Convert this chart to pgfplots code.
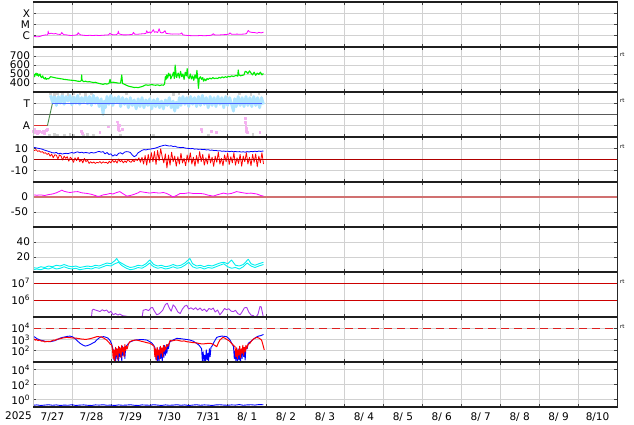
\documentclass[border=0pt]{standalone}
\usepackage{pgfplots}
\pgfplotsset{compat=1.18}
\usepackage{fontspec}
\setmainfont{DejaVu Sans}
\newcommand{\lab}{\fontsize{10.5}{12}\selectfont}
\definecolor{xmag}{HTML}{FF00FF}
\definecolor{swgreen}{HTML}{00EE00}
\definecolor{ltblue}{HTML}{AEE4FF}
\definecolor{tblue}{HTML}{4A66FF}
\definecolor{agreen}{HTML}{4A8A4A}
\definecolor{ared}{HTML}{E03030}
\definecolor{pinkp}{HTML}{F4B0F0}
\definecolor{zred}{HTML}{B00000}
\definecolor{salmon}{HTML}{D07070}
\definecolor{purp}{HTML}{A838E8}
\definecolor{thred}{HTML}{CC0000}
\definecolor{dred}{HTML}{DD2020}
\definecolor{cy}{HTML}{00F0F0}
\pgfplotsset{
  panel/.style={
    scale only axis, width=584pt, height=45pt, anchor=south west,
    xmin=0, xmax=15, xtick={0,1,...,15}, xticklabels={},
    grid=major, major grid style={draw=black!18, line width=0.6pt},
    axis line style={draw=none},
    tick style={draw=black!75, line width=0.6pt}, major tick length=3pt,
    tick align=inside,
    yticklabel style={font=\lab, xshift=0.5pt},
    yminorticks=false,
    every axis plot/.append style={line width=0.8pt, line join=round},
  },
}
\begin{document}
\begin{tikzpicture}
\path[use as bounding box] (0pt,0pt) rectangle (634pt,424pt);

% ---------- Panel 1: X-ray ----------
\begin{axis}[panel, at={(33pt,377pt)}, ymode=log, ymin=1e-7, ymax=1e-3,
  ytick={1e-6,1e-5,1e-4}, yticklabels={C,M,X}]
\addplot[xmag, line width=0.8pt] coordinates {
(0.00,9.0e-7)(0.04,8.6e-7)(0.08,8.2e-7)(0.12,8.0e-7)(0.16,8.5e-7)(0.20,9.2e-7)(0.24,1.05e-6)(0.28,1.1e-6)
(0.32,1.2e-6)(0.36,1.15e-6)(0.38,1.3e-6)(0.39,2.6e-6)(0.40,1.6e-6)(0.43,1.5e-6)(0.46,1.7e-6)(0.50,1.55e-6)
(0.54,1.45e-6)(0.58,1.6e-6)(0.62,1.4e-6)(0.66,1.35e-6)(0.70,1.3e-6)(0.73,1.6e-6)(0.74,2.0e-6)(0.76,1.5e-6)
(0.80,1.25e-6)(0.86,1.2e-6)(0.92,1.1e-6)(0.98,1.05e-6)(1.04,1.1e-6)(1.10,1.15e-6)(1.14,1.3e-6)(1.16,1.9e-6)
(1.18,1.5e-6)(1.22,1.2e-6)(1.30,1.1e-6)(1.38,1.05e-6)(1.46,1.1e-6)(1.54,1.05e-6)(1.62,1.1e-6)(1.70,1.05e-6)
(1.78,1.1e-6)(1.86,1.15e-6)(1.94,1.2e-6)(1.98,1.7e-6)(2.01,1.3e-6)(2.08,1.2e-6)(2.14,1.25e-6)(2.18,1.6e-6)
(2.19,2.6e-6)(2.21,1.5e-6)(2.26,1.3e-6)(2.32,1.2e-6)(2.40,1.2e-6)(2.48,1.25e-6)(2.55,1.3e-6)(2.58,2.0e-6)
(2.61,1.4e-6)(2.68,1.35e-6)(2.76,1.45e-6)(2.84,1.5e-6)(2.90,1.6e-6)(2.92,2.8e-6)(2.95,1.8e-6)(2.99,2.2e-6)
(3.02,1.7e-6)(3.06,2.4e-6)(3.09,3.5e-6)(3.12,2.0e-6)(3.16,2.3e-6)(3.20,1.9e-6)(3.24,4.2e-6)(3.27,2.0e-6)
(3.31,1.8e-6)(3.35,2.0e-6)(3.39,2.8e-6)(3.42,1.6e-6)(3.50,1.5e-6)(3.58,1.4e-6)(3.66,1.45e-6)(3.74,1.4e-6)
(3.80,1.5e-6)(3.82,1.8e-6)(3.85,1.2e-6)(3.92,1.1e-6)(4.00,1.05e-6)(4.10,1.0e-6)(4.20,1.0e-6)(4.30,1.05e-6)
(4.40,1.0e-6)(4.50,1.05e-6)(4.58,1.1e-6)(4.63,1.5e-6)(4.66,1.2e-6)(4.74,1.15e-6)(4.82,1.2e-6)(4.90,1.25e-6)
(4.98,1.3e-6)(5.04,1.45e-6)(5.06,1.8e-6)(5.09,1.4e-6)(5.16,1.35e-6)(5.24,1.4e-6)(5.32,1.35e-6)(5.40,1.4e-6)
(5.48,1.5e-6)(5.53,3.0e-6)(5.56,2.2e-6)(5.62,2.0e-6)(5.70,1.9e-6)(5.76,1.7e-6)(5.80,2.0e-6)(5.86,1.8e-6)(5.92,2.1e-6)};
\end{axis}

% ---------- Panel 2: solar wind speed ----------
\begin{axis}[panel, at={(33pt,332pt)}, ymin=300, ymax=800,
  ytick={400,500,600,700}, yticklabels={400,500,600,700}]
\addplot[swgreen, line width=1.1pt] coordinates {
(0.00,480)(0.02,500)(0.04,470)(0.06,495)(0.08,510)(0.10,485)(0.12,505)(0.14,475)(0.16,490)(0.18,500)
(0.20,470)(0.22,460)(0.25,480)(0.27,455)(0.30,445)(0.32,460)(0.34,440)(0.37,450)(0.40,445)(0.45,470)
(0.50,465)(0.55,460)(0.60,455)(0.65,452)(0.70,448)(0.75,445)(0.80,440)(0.85,438)(0.90,435)(0.95,432)
(1.00,430)(1.05,428)(1.10,425)(1.15,420)(1.20,418)(1.24,425)(1.25,490)(1.26,430)(1.30,415)(1.35,420)
(1.40,412)(1.45,415)(1.50,410)(1.55,405)(1.60,408)(1.65,400)(1.70,395)(1.75,390)(1.80,385)(1.85,392)
(1.90,388)(1.95,395)(1.98,440)(2.00,400)(2.05,410)(2.10,405)(2.15,402)(2.20,398)(2.25,400)(2.28,490)
(2.30,395)(2.35,385)(2.40,375)(2.45,365)(2.50,360)(2.55,355)(2.60,350)(2.65,352)(2.70,348)(2.75,355)
(2.80,360)(2.85,370)(2.90,380)(2.95,375)(3.00,378)(3.05,382)(3.10,378)(3.15,375)(3.20,380)(3.25,372)
(3.30,378)(3.35,375)(3.38,390)(3.40,470)(3.42,440)(3.43,490)(3.46,455)(3.48,510)(3.49,480)(3.52,500)(3.54,445)(3.55,460)(3.58,485)
(3.61,520)(3.63,450)(3.64,470)(3.65,600)(3.67,520)(3.69,460)(3.70,480)(3.73,510)(3.76,455)(3.79,530)(3.82,470)(3.85,500)
(3.88,440)(3.91,520)(3.94,480)(3.96,560)(3.98,470)(4.01,450)(4.04,500)(4.07,445)(4.10,480)(4.13,430)
(4.16,490)(4.19,450)(4.21,540)(4.23,460)(4.25,340)(4.27,450)(4.30,470)(4.33,440)(4.36,460)(4.38,420)
(4.41,445)(4.44,425)(4.47,450)(4.50,440)(4.54,455)(4.58,445)(4.62,460)(4.66,448)(4.70,455)(4.74,450)
(4.78,462)(4.82,455)(4.86,468)(4.90,458)(4.94,470)(4.98,462)(5.02,475)(5.06,468)(5.10,480)(5.14,472)
(5.18,478)(5.22,485)(5.26,475)(5.27,545)(5.29,490)(5.33,480)(5.37,485)(5.42,490)(5.45,530)(5.48,525)
(5.52,505)(5.56,535)(5.60,510)(5.64,490)(5.68,520)(5.72,485)(5.76,510)(5.80,495)(5.84,520)(5.88,490)(5.92,505)};
\end{axis}

% ---------- Panel 3: T/A sector ----------
\begin{axis}[panel, at={(33pt,287pt)}, ymin=-2, ymax=2,
  ytick={-1,0,1}, yticklabels={A,,T}]
\addplot[only marks, mark=square*, mark size=0.8pt, draw=black!18, fill=black!18] coordinates {
(0.45,1.85)(0.55,1.8)(0.62,1.9)(0.75,1.85)(0.9,1.8)(1.05,1.85)(1.2,1.9)(1.35,1.8)(1.5,1.85)(2.4,1.85)
(3.6,1.8)(3.75,1.85)(5.3,1.85)(5.6,1.8)(5.8,1.85)
(0.42,-1.8)(0.55,-1.75)(0.62,-1.85)(0.8,-1.8)(0.95,-1.75)(1.05,-1.85)(1.3,-1.8)(1.4,-1.75)(1.55,-1.8)
(2.25,-1.85)(3.1,-1.8)(4.5,-1.8)(5.65,-1.75)};
\addplot[ltblue, line width=2.8pt] coordinates {
(0.45,1.7)(0.50,1.1)(0.55,1.65)(0.60,0.8)(0.65,1.6)(0.70,1.0)(0.75,1.75)(0.80,0.9)(0.85,1.6)(0.90,1.2)
(0.95,1.7)(1.00,0.85)(1.05,1.55)(1.10,1.0)(1.15,1.7)(1.20,0.9)(1.25,1.5)(1.30,1.1)(1.35,1.65)(1.40,0.95)
(1.45,1.6)(1.50,0.8)(1.55,1.7)(1.60,1.0)(1.65,1.5)(1.70,0.7)(1.75,1.4)(1.80,0.0)(1.83,1.2)(1.86,0.6)
(1.90,1.6)(1.95,0.9)(2.00,1.7)(2.05,0.8)(2.10,1.5)(2.15,1.1)(2.20,1.6)(2.25,0.7)(2.30,1.5)(2.35,0.9)
(2.40,1.4)(2.45,0.6)(2.50,1.5)(2.55,0.8)(2.60,1.3)(2.65,0.5)(2.70,1.4)(2.75,0.7)(2.80,1.5)(2.85,0.6)
(2.90,1.3)(2.95,0.8)(3.00,1.4)(3.05,0.5)(3.10,1.3)(3.15,0.7)(3.20,1.4)(3.25,0.6)(3.30,1.2)(3.35,0.5)
(3.40,1.3)(3.45,0.8)(3.50,1.5)(3.55,0.6)(3.60,1.2)(3.64,0.3)(3.68,1.1)(3.72,0.6)(3.76,1.5)(3.80,0.8)
(3.85,1.6)(3.90,0.9)(3.95,1.5)(4.00,0.7)(4.05,1.6)(4.10,0.9)(4.15,1.5)(4.20,0.7)(4.25,1.6)(4.30,0.8)
(4.35,1.7)(4.40,0.9)(4.45,1.5)(4.50,0.6)(4.55,1.6)(4.60,0.8)(4.65,1.5)(4.70,0.7)(4.75,1.6)(4.80,0.9)
(4.85,1.5)(4.90,0.6)(4.95,1.6)(5.00,0.8)(5.05,1.5)(5.10,0.9)(5.15,0.3)(5.18,1.4)(5.22,0.7)(5.27,1.6)
(5.32,0.8)(5.37,1.5)(5.42,0.7)(5.47,1.6)(5.52,0.8)(5.57,1.5)(5.62,0.7)(5.67,1.6)(5.72,0.8)(5.77,1.5)
(5.82,0.6)(5.87,1.5)(5.92,0.9)};
\addplot[only marks, mark=square*, mark size=0.9pt, draw=pinkp, fill=pinkp] coordinates {
(0.02,-1.5)(0.05,-1.6)(0.08,-1.45)(0.11,-1.55)(0.14,-1.6)(0.17,-1.5)(0.20,-1.55)(0.23,-1.6)(0.26,-1.5)
(0.29,-1.55)(0.32,-1.45)(0.35,-1.4)(0.38,-1.3)(0.04,-1.35)(0.12,-1.7)(0.30,-1.7)
(1.25,-1.5)(1.27,-1.65)(1.72,-1.6)(1.93,-1.1)(2.17,-0.65)(2.18,-0.9)(2.19,-1.1)(2.20,-1.3)(2.22,-1.45)
(2.23,-1.0)(2.30,-1.35)(4.33,-1.3)(4.34,-1.55)(4.59,-1.5)(4.72,-1.6)(5.45,-0.35)(5.46,-0.7)(5.47,-1.0)
(5.48,-1.25)(5.49,-1.5)(5.50,-1.6)(5.83,-1.6)};
\addplot[black!65, line width=0.8pt] coordinates {(0,0)(15,0)};
\addplot[ared, line width=0.9pt] coordinates {(0,-1)(0.37,-1)};
\addplot[agreen, line width=0.9pt] coordinates {(0.37,-1)(0.5,1)};
\addplot[tblue, line width=1pt] coordinates {(0.5,1)(5.88,1)};
\end{axis}

% ---------- Panel 4: IMF Bt / Bz ----------
\begin{axis}[panel, at={(33pt,242pt)}, ymin=-20, ymax=20,
  ytick={-10,0,10}, yticklabels={-10,0,10}, yticklabel style={xshift=-2pt}]
\addplot[red, line width=0.8pt] coordinates {
(0.00,8.5)(0.04,8.0)(0.08,8.8)(0.12,7.2)(0.16,7.8)(0.20,6.5)(0.24,7.0)(0.28,5.6)(0.32,6.0)(0.36,4.5)
(0.40,5.5)(0.44,3.0)(0.48,4.8)(0.52,1.5)(0.56,4.2)(0.60,3.8)(0.64,0.5)(0.68,4.0)(0.72,3.2)(0.76,-0.5)
(0.80,3.0)(0.84,1.0)(0.88,2.5)(0.92,-1.5)(0.96,2.0)(1.00,0.5)(1.04,-2.5)(1.08,1.5)(1.12,-1.0)(1.16,2.0)
(1.20,-2.0)(1.24,0.0)(1.28,-3.0)(1.32,1.0)(1.36,-2.0)(1.40,-0.5)(1.44,-3.5)(1.48,-2.0)(1.52,-3.2)(1.56,-2.2)
(1.60,-3.5)(1.64,-2.5)(1.68,-3.0)(1.72,-1.8)(1.76,-3.4)(1.80,-2.0)(1.84,-3.0)(1.88,-2.4)(1.92,-3.6)(1.96,-1.5)
(2.00,-3.0)(2.04,-0.5)(2.08,-2.5)(2.12,-1.0)(2.16,-3.2)(2.20,0.5)(2.24,-2.0)(2.28,-0.8)(2.32,-3.0)(2.36,-1.2)
(2.40,-2.6)(2.44,0.2)(2.48,-1.8)(2.52,-2.5)(2.56,-0.5)(2.60,-2.0)(2.64,0.5)(2.68,-1.0)(2.72,1.5)(2.76,-2.5)
(2.80,2.0)(2.84,-4.0)(2.88,3.5)(2.92,-5.0)(2.96,4.5)(3.00,-3.0)(3.04,6.0)(3.08,-2.0)(3.12,7.0)(3.16,-4.5)
(3.20,8.0)(3.24,-1.0)(3.28,9.5)(3.32,2.0)(3.36,-3.0)(3.40,5.0)(3.44,-7.5)(3.48,4.0)(3.52,-5.0)(3.56,6.5)
(3.60,-2.0)(3.64,3.0)(3.68,-6.0)(3.72,2.5)(3.76,-4.0)(3.80,5.5)(3.84,-3.0)(3.88,1.0)(3.92,-5.5)(3.96,4.0)
(4.00,-2.5)(4.04,6.0)(4.08,-4.0)(4.12,2.0)(4.16,-6.0)(4.20,3.5)(4.24,-3.5)(4.28,7.0)(4.32,-2.0)(4.36,4.5)
(4.40,-5.0)(4.44,1.5)(4.48,-4.0)(4.52,5.0)(4.56,-3.0)(4.60,2.0)(4.64,-6.0)(4.68,3.0)(4.72,-2.5)(4.76,6.5)
(4.80,-4.0)(4.84,1.0)(4.88,-5.5)(4.92,4.0)(4.96,-2.0)(5.00,5.5)(5.04,-4.5)(5.08,2.5)(5.12,-3.0)(5.16,6.0)
(5.20,-5.0)(5.24,1.5)(5.28,-3.5)(5.32,4.5)(5.36,-6.0)(5.40,3.0)(5.44,-2.0)(5.48,6.0)(5.52,-4.0)(5.56,2.0)
(5.60,-5.5)(5.64,4.5)(5.68,-2.5)(5.72,5.0)(5.76,-6.5)(5.80,3.0)(5.84,-3.0)(5.88,6.0)(5.92,-4.0)};
\addplot[blue, line width=0.8pt] coordinates {
(0.00,11.0)(0.05,10.6)(0.10,10.2)(0.15,9.8)(0.20,9.5)(0.25,9.0)(0.30,8.3)(0.35,7.8)(0.40,7.2)(0.45,6.6)
(0.50,6.0)(0.55,5.8)(0.60,6.3)(0.65,5.0)(0.70,5.6)(0.75,4.8)(0.80,5.3)(0.85,5.5)(0.90,5.2)(0.95,5.8)
(1.00,6.2)(1.05,5.6)(1.10,6.4)(1.15,6.8)(1.20,6.0)(1.25,6.5)(1.30,5.8)(1.35,6.2)(1.40,6.0)(1.45,5.6)
(1.50,6.3)(1.55,5.8)(1.60,6.0)(1.65,6.8)(1.70,7.2)(1.75,6.5)(1.80,7.0)(1.85,5.0)(1.90,6.2)(1.95,4.5)
(2.00,5.0)(2.05,3.0)(2.10,4.2)(2.15,3.5)(2.20,5.5)(2.25,6.0)(2.30,4.8)(2.35,6.5)(2.40,7.0)(2.45,6.8)
(2.50,6.2)(2.55,4.0)(2.60,2.5)(2.65,3.5)(2.70,6.0)(2.75,7.0)(2.80,8.2)(2.85,8.8)(2.90,8.5)(2.95,9.0)
(3.00,9.2)(3.05,9.5)(3.10,9.8)(3.15,10.2)(3.20,10.8)(3.25,11.5)(3.30,12.0)(3.35,12.5)(3.40,12.8)(3.45,12.3)
(3.50,12.0)(3.55,12.2)(3.60,11.5)(3.65,11.8)(3.70,11.0)(3.75,10.8)(3.80,10.5)(3.85,10.8)(3.90,10.2)(3.95,10.0)
(4.00,9.8)(4.05,9.6)(4.10,9.8)(4.15,9.2)(4.20,9.4)(4.25,9.0)(4.30,9.2)(4.35,8.8)(4.40,9.0)(4.45,8.5)
(4.50,8.7)(4.55,8.2)(4.60,8.4)(4.65,7.9)(4.70,8.1)(4.75,7.6)(4.80,7.8)(4.85,7.3)(4.90,7.5)(4.95,7.2)
(5.00,7.4)(5.05,7.0)(5.10,7.3)(5.15,6.9)(5.20,7.1)(5.25,6.8)(5.30,7.0)(5.35,6.6)(5.40,6.9)(5.45,6.5)
(5.50,7.0)(5.55,6.7)(5.60,7.2)(5.65,6.9)(5.70,7.4)(5.75,7.0)(5.80,7.5)(5.85,7.2)(5.92,7.6)};
\addplot[zred, line width=0.9pt] coordinates {(0,0)(15,0)};
\end{axis}

% ---------- Panel 5: Dst ----------
\begin{axis}[panel, at={(33pt,197pt)}, ymin=-100, ymax=50,
  ytick={-50,0}, yticklabels={-50,0}, yticklabel style={xshift=-2pt}]
\addplot[salmon, line width=2pt] coordinates {(0,0)(15,0)};
\addplot[xmag, line width=0.8pt] coordinates {
(0.00,7)(0.10,6)(0.20,7)(0.30,5)(0.40,8)(0.50,10)(0.60,14)(0.70,20)(0.74,23)(0.80,19)(0.86,17)(0.95,15)
(1.05,17)(1.15,18)(1.25,14)(1.38,12)(1.50,9)(1.60,5)(1.66,2)(1.72,3)(1.80,7)(1.90,9)(1.98,12)(2.05,10)
(2.15,15)(2.23,18)(2.30,12)(2.41,3)(2.50,5)(2.60,9)(2.70,14)(2.75,18)(2.85,16)(3.00,13)(3.10,15)(3.25,13)
(3.35,15)(3.43,12)(3.52,6)(3.60,0)(3.70,6)(3.78,12)(3.90,12)(4.00,14)(4.10,12)(4.29,12)(4.40,10)(4.50,6)
(4.63,3)(4.75,8)(4.89,13)(5.00,10)(5.10,12)(5.23,18)(5.35,15)(5.49,12)(5.60,13)(5.75,10)(5.85,5)(5.92,3)};
\end{axis}

% ---------- Panel 6: cyan ----------
\begin{axis}[panel, at={(33pt,152pt)}, ymin=0, ymax=60,
  ytick={20,40}, yticklabels={20,40}]
\addplot[cy, line width=0.9pt] coordinates {
(0.0,3)(0.1,4)(0.2,3)(0.3,5)(0.4,4)(0.5,6)(0.6,4)(0.7,5)(0.8,7)(0.9,5)(1.0,4)(1.1,5)(1.2,3)(1.3,4)(1.4,5)
(1.5,4)(1.6,6)(1.7,5)(1.8,7)(1.9,9)(2.0,8)(2.1,11)(2.2,13)(2.25,10)(2.3,8)(2.4,5)(2.5,3)(2.6,4)(2.7,6)
(2.8,5)(2.9,8)(3.0,12)(3.05,9)(3.1,7)(3.2,5)(3.3,6)(3.4,4)(3.5,5)(3.6,7)(3.7,5)(3.8,6)(3.9,9)(4.0,13)
(4.05,10)(4.1,7)(4.2,5)(4.3,6)(4.4,4)(4.5,6)(4.6,5)(4.7,7)(4.8,9)(4.9,11)(5.0,7)(5.1,5)(5.2,6)(5.3,4)
(5.4,7)(5.5,12)(5.6,8)(5.7,6)(5.8,8)(5.92,10)};
\addplot[cy, line width=0.9pt] coordinates {
(0.0,6)(0.1,5)(0.2,7)(0.3,6)(0.4,8)(0.5,7)(0.6,9)(0.7,8)(0.8,10)(0.9,8)(1.0,7)(1.1,8)(1.2,6)(1.3,7)(1.4,8)
(1.5,7)(1.6,9)(1.7,8)(1.8,10)(1.9,12)(2.0,11)(2.1,15)(2.15,18)(2.2,14)(2.3,11)(2.4,8)(2.5,6)(2.6,7)(2.7,9)
(2.8,8)(2.9,11)(3.0,16)(3.05,13)(3.1,10)(3.2,8)(3.3,9)(3.4,7)(3.5,8)(3.6,10)(3.7,8)(3.8,9)(3.9,12)(4.03,18)
(4.1,11)(4.2,8)(4.3,9)(4.4,7)(4.5,9)(4.6,8)(4.7,10)(4.8,12)(4.9,13)(5.0,11)(5.1,16)(5.2,9)(5.3,8)(5.4,10)
(5.53,17)(5.6,11)(5.7,9)(5.8,11)(5.92,13)};
\end{axis}

% ---------- Panel 7: purple ----------
\begin{axis}[panel, at={(33pt,107pt)}, ymode=log, ymin=1e5, ymax=4.7e7,
  ytick={1e6,1e7}, yticklabels={10\textsuperscript{6},10\textsuperscript{7}}]
\addplot[thred, line width=0.8pt] coordinates {(0,1e6)(15,1e6)};
\addplot[thred, line width=0.8pt] coordinates {(0,1e7)(15,1e7)};
\addplot[purp, line width=0.9pt] coordinates {
(1.50,9e4)(1.52,2.5e5)(1.55,2.9e5)(1.60,2.6e5)(1.65,2.4e5)(1.72,2.1e5)(1.78,2.7e5)(1.83,2.3e5)(1.89,2.6e5)
(1.95,1.8e5)(2.00,2.2e5)(2.06,1.35e5)(2.12,1.6e5)(2.18,1.3e5)(2.23,1.5e5)(2.30,1.2e5)(2.41,1.1e5)(2.50,9e4)
(2.80,9e4)(2.83,2.5e5)(2.90,2.8e5)(2.97,2.4e5)(3.03,3.5e5)(3.07,3.7e5)(3.12,2.2e5)(3.18,1.35e5)(3.25,1.6e5)
(3.33,2.5e5)(3.40,5.5e5)(3.45,6.6e5)(3.50,3.4e5)(3.55,2.2e5)(3.60,5.3e5)(3.65,4.0e5)(3.72,2.0e5)(3.78,1.6e5)
(3.84,3.0e5)(3.90,4.5e5)(3.95,5.0e5)(4.00,3.0e5)(4.06,3.5e5)(4.12,2.8e5)(4.18,3.6e5)(4.23,2.6e5)(4.29,3.4e5)
(4.35,2.4e5)(4.40,3.0e5)(4.46,2.1e5)(4.52,3.2e5)(4.58,2.8e5)(4.63,3.4e5)(4.68,2.0e5)(4.74,2.6e5)(4.80,1.35e5)
(4.86,2.0e5)(4.92,3.2e5)(4.97,2.7e5)(5.03,3.1e5)(5.09,2.2e5)(5.15,2.1e5)(5.20,2.5e5)(5.26,1.6e5)(5.32,1.35e5)
(5.38,2.2e5)(5.43,3.5e5)(5.49,3.7e5)(5.54,2.0e5)(5.60,1.3e5)(5.66,1.2e5)(5.72,9e4)(5.78,1.5e5)(5.83,4.2e5)
(5.86,4.0e5)(5.90,1.5e5)(5.92,9e4)};
\end{axis}

% ---------- Panel 8: electrons / protons ----------
\begin{axis}[panel, at={(33pt,62pt)}, ymode=log, ymin=1e1, ymax=1e5,
  ytick={1e2,1e3,1e4}, yticklabels={10\textsuperscript{2},10\textsuperscript{3},10\textsuperscript{4}}]
\addplot[dred, line width=1pt, dash pattern=on 8pt off 5pt] coordinates {(0,1e4)(15,1e4)};
\addplot[blue, line width=0.9pt] coordinates {
(0.00,2.0e3)(0.05,1.6e3)(0.10,1.2e3)(0.18,9e2)(0.25,8e2)(0.31,7e2)(0.38,6.6e2)(0.44,6.4e2)(0.50,7e2)
(0.57,8e2)(0.63,1.0e3)(0.69,1.3e3)(0.75,1.5e3)(0.82,1.7e3)(0.88,1.9e3)(0.95,2.0e3)(1.02,1.7e3)(1.08,1.2e3)
(1.15,7e2)(1.21,4.6e2)(1.28,3.2e2)(1.34,2.6e2)(1.40,2.9e2)(1.46,3.5e2)(1.52,4.5e2)(1.59,6e2)(1.65,1.0e3)
(1.72,1.55e3)(1.81,1.8e3)(1.87,1.6e3)(1.93,1.3e3)(1.98,8e2)(2.02,4e2)
(2.06,1.2e2)(2.08,15)(2.10,90)(2.12,12)(2.14,150)(2.16,20)(2.18,60)(2.20,11)(2.22,200)(2.24,30)(2.26,100)
(2.28,12)(2.30,250)(2.32,40)(2.34,150)(2.36,20)(2.38,200)(2.41,3e2)
(2.49,6e2)(2.56,7.5e2)(2.62,9e2)(2.70,9.5e2)(2.79,1.0e3)(2.86,9.5e2)(2.92,9e2)(2.98,7e2)(3.05,5e2)(3.10,3e2)
(3.13,2e2)(3.16,15)(3.18,120)(3.20,11)(3.22,60)(3.24,12)(3.26,200)(3.28,20)(3.30,80)(3.32,12)(3.34,150)
(3.36,25)(3.38,300)(3.40,40)(3.42,200)(3.44,60)(3.46,350)(3.48,150)(3.50,400)
(3.52,6.4e2)(3.60,9e2)(3.69,1.27e3)(3.78,1.2e3)(3.86,1.1e3)(3.95,1.0e3)(4.03,9e2)(4.12,7e2)(4.20,4.6e2)(4.27,3e2)
(4.33,1.5e2)(4.35,12)(4.37,80)(4.39,11)(4.41,40)(4.43,12)(4.45,120)(4.47,15)(4.49,60)(4.51,11)(4.53,150)
(4.55,30)(4.57,200)(4.59,2.3e2)
(4.65,6e2)(4.72,1.55e3)(4.78,1.8e3)(4.85,2.0e3)(4.92,1.9e3)(4.97,1.8e3)(5.02,1.3e3)(5.06,9e2)(5.10,5e2)
(5.15,2.3e2)(5.17,20)(5.19,100)(5.21,12)(5.23,60)(5.25,11)(5.27,150)(5.29,15)(5.31,40)(5.33,11)(5.35,120)
(5.37,20)(5.39,200)(5.41,30)(5.43,80)(5.45,15)(5.47,250)(5.50,150)
(5.53,4.6e2)(5.60,7e2)(5.66,1.05e3)(5.72,1.5e3)(5.79,2.0e3)(5.85,2.2e3)(5.92,2.8e3)};
\addplot[red, line width=1pt] coordinates {
(0.00,9e2)(0.03,1.1e3)(0.06,8.5e2)(0.09,1.0e3)(0.13,8e2)(0.17,9e2)(0.22,7e2)(0.26,7.5e2)(0.30,6.2e2)
(0.35,6.5e2)(0.40,7e2)(0.44,6.8e2)(0.48,7.5e2)(0.53,9e2)(0.57,8.5e2)(0.61,1.05e3)(0.66,1.1e3)(0.70,1.2e3)
(0.74,1.3e3)(0.78,1.4e3)(0.82,1.45e3)(0.86,1.55e3)(0.90,1.5e3)(0.95,1.45e3)(0.99,1.4e3)(1.05,1.35e3)
(1.12,1.3e3)(1.18,1.2e3)(1.25,1.1e3)(1.31,1.05e3)(1.38,1.05e3)(1.45,1.15e3)(1.51,1.3e3)(1.57,1.5e3)
(1.64,1.8e3)(1.70,1.75e3)(1.76,1.7e3)(1.82,1.3e3)(1.89,9e2)(1.95,5.5e2)(1.98,4e2)(2.02,3.3e2)
(2.04,1.5e2)(2.06,20)(2.08,120)(2.10,12)(2.12,200)(2.14,40)(2.16,150)(2.18,15)(2.20,250)(2.22,60)(2.24,180)
(2.26,25)(2.28,300)(2.30,80)(2.32,200)(2.34,30)(2.36,350)(2.38,100)(2.40,250)(2.42,150)(2.45,400)
(2.49,6.4e2)(2.55,8e2)(2.60,8.5e2)(2.66,9e2)(2.72,8e2)(2.78,7e2)(2.83,6.4e2)(2.90,5.5e2)(2.95,5e2)(3.00,4.6e2)(3.06,3.5e2)
(3.11,2.5e2)(3.13,30)(3.15,150)(3.17,15)(3.19,200)(3.21,40)(3.23,120)(3.25,20)(3.27,250)(3.29,60)(3.31,180)
(3.33,30)(3.35,300)(3.37,90)(3.39,220)(3.41,120)(3.43,350)(3.46,250)(3.50,500)
(3.52,8e2)(3.57,7.5e2)(3.63,8.5e2)(3.69,9e2)(3.75,8e2)(3.82,7e2)(3.88,7.5e2)(3.95,6.4e2)(4.01,6e2)(4.08,5.5e2)
(4.14,5.2e2)(4.20,5e2)(4.26,4.5e2)(4.31,4.2e2)(4.37,4e2)(4.43,4.3e2)(4.49,4.5e2)(4.55,4.6e2)(4.61,4e2)
(4.67,3e2)(4.72,2.3e2)(4.76,5e2)(4.80,9e2)(4.84,1.2e3)(4.88,1.55e3)(4.93,1.3e3)(4.98,1.0e3)(5.03,8e2)
(5.06,6.4e2)(5.10,4.5e2)(5.15,3e2)
(5.19,2.3e2)(5.21,30)(5.23,180)(5.25,20)(5.27,120)(5.29,40)(5.31,250)(5.33,25)(5.35,150)(5.37,60)(5.39,300)
(5.41,40)(5.43,200)(5.45,80)(5.47,300)(5.49,150)(5.52,350)(5.57,4.6e2)
(5.62,8e2)(5.68,1.2e3)(5.75,1.55e3)(5.81,1.3e3)(5.87,9e2)(5.90,4e2)(5.94,1.2e2)};
\end{axis}

% ---------- Panel 9 ----------
\begin{axis}[panel, at={(33pt,17pt)}, ymode=log, ymin=1e-1, ymax=1e5,
  ytick={1e0,1e2,1e4}, yticklabels={10\textsuperscript{0},10\textsuperscript{2},10\textsuperscript{4}},
  extra x ticks={0.5,1.5,...,14.5},
  extra x tick labels={7/27,7/28,7/29,7/30,7/31,8/ 1,8/ 2,8/ 3,8/ 4,8/ 5,8/ 6,8/ 7,8/ 8,8/ 9,8/10},
  extra x tick style={grid=none, major tick length=0pt, xticklabel style={font=\lab, yshift=-2pt}}]
\addplot[blue, line width=0.9pt] coordinates {
(0.0,0.17)(0.1,0.19)(0.2,0.16)(0.3,0.18)(0.4,0.2)(0.5,0.17)(0.6,0.19)(0.7,0.16)(0.8,0.18)(0.9,0.17)
(1.0,0.2)(1.1,0.16)(1.2,0.18)(1.3,0.19)(1.4,0.17)(1.5,0.16)(1.6,0.19)(1.7,0.18)(1.8,0.2)(1.9,0.17)
(2.0,0.18)(2.1,0.16)(2.2,0.19)(2.3,0.17)(2.4,0.18)(2.5,0.2)(2.6,0.17)(2.7,0.16)(2.8,0.19)(2.9,0.18)
(3.0,0.17)(3.1,0.2)(3.2,0.18)(3.3,0.16)(3.4,0.19)(3.5,0.17)(3.6,0.18)(3.7,0.2)(3.8,0.17)(3.9,0.19)
(4.0,0.16)(4.1,0.18)(4.2,0.2)(4.3,0.17)(4.4,0.19)(4.5,0.18)(4.6,0.16)(4.7,0.19)(4.8,0.2)(4.9,0.18)
(5.0,0.17)(5.1,0.19)(5.2,0.18)(5.3,0.21)(5.4,0.17)(5.5,0.19)(5.6,0.2)(5.7,0.18)(5.8,0.21)(5.92,0.2)};
\end{axis}

% ---------- frame ----------
\draw[black!25, line width=0.6pt] (33pt,17pt) -- (33pt,422pt);
\draw[black!85, line width=0.9pt] (617pt,16pt) -- (617pt,423pt);
\foreach \yy in {17,62,107,152,197,242,287,332,377,422}
  \draw[black!88, line width=2pt] (33pt,\yy pt) -- (617.4pt,\yy pt);
\node[font=\lab, anchor=center] at (18.5pt,8.2pt) {2025};
\foreach \yy in {369,323,277,142,97}
  \node[font=\fontsize{5.5}{6}\selectfont, anchor=west, inner sep=0pt] at (620pt,\yy pt) {rt};
\end{tikzpicture}
\end{document}
